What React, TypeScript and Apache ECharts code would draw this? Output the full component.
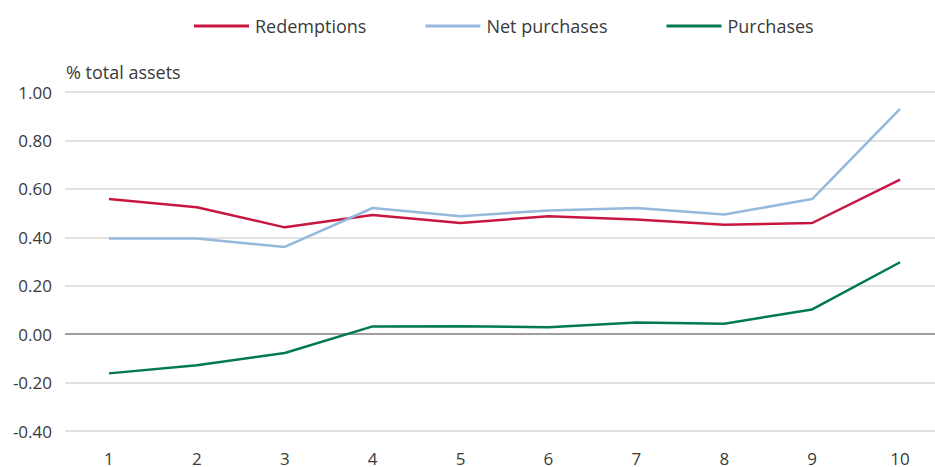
import React, { useEffect, useRef } from "react";
import * as echarts from "echarts";

const categories = ["1", "2", "3", "4", "5", "6", "7", "8", "9", "10"];
const redemptions = [0.558, 0.524, 0.441, 0.492, 0.459, 0.487, 0.473, 0.452, 0.459, 0.638];
const netPurchases = [0.395, 0.395, 0.36, 0.521, 0.487, 0.511, 0.521, 0.494, 0.558, 0.93];
const purchases = [-0.162, -0.128, -0.078, 0.032, 0.033, 0.028, 0.048, 0.043, 0.102, 0.297];

const FONT = "'Open Sans', 'Noto Sans', sans-serif";
const TEXT = "#3a3a3a";

export default function App() {
  const ref = useRef<HTMLDivElement>(null);
  useEffect(() => {
    if (!ref.current) return;
    const chart = echarts.init(ref.current, undefined, { renderer: "svg" });
    const splitColors = ["#d9d9d9", "#d9d9d9", "#7f7f7f", "#d9d9d9", "#d9d9d9", "#d9d9d9", "#d9d9d9", "#d9d9d9"];
    chart.setOption({
      animation: false,
      backgroundColor: "#ffffff",
      textStyle: { fontFamily: FONT },
      legend: {
        top: 12,
        left: 189,
        itemWidth: 55,
        itemHeight: 3,
        itemGap: 59,
        icon: "rect",
        textStyle: { fontSize: 18, color: TEXT, fontFamily: FONT, padding: [0, 0, 0, 1] },
        data: ["Redemptions", "Net purchases", "Purchases"],
      },
      grid: { left: 65, right: 0, top: 92, bottom: 34, containLabel: false },
      xAxis: {
        type: "category",
        data: categories,
        boundaryGap: true,
        axisLine: { show: false },
        axisTick: { show: false },
        axisLabel: { color: TEXT, fontSize: 17, fontFamily: FONT, margin: 19 },
        splitLine: { show: false },
      },
      yAxis: {
        type: "value",
        min: -0.4,
        max: 1.0,
        interval: 0.2,
        name: "% total assets",
        nameLocation: "end",
        nameGap: 11,
        nameTextStyle: { color: TEXT, fontSize: 18, fontFamily: FONT, align: "left", padding: [0, 0, 0, 1] },
        axisLine: { show: false },
        axisTick: { show: false },
        axisLabel: {
          color: TEXT,
          fontSize: 17,
          fontFamily: FONT,
          margin: 13,
          formatter: (v: number) => v.toFixed(2),
        },
        splitLine: { show: true, lineStyle: { color: splitColors, width: 1.5 } },
      },
      series: [
        {
          name: "Redemptions",
          type: "line",
          data: redemptions,
          showSymbol: false,
          symbol: "none",
          color: "#c8163f",
          lineStyle: { width: 2.5, color: "#c8163f" },
        },
        {
          name: "Net purchases",
          type: "line",
          data: netPurchases,
          showSymbol: false,
          symbol: "none",
          color: "#95b9dc",
          lineStyle: { width: 2.5, color: "#95b9dc" },
        },
        {
          name: "Purchases",
          type: "line",
          data: purchases,
          showSymbol: false,
          symbol: "none",
          color: "#007a4e",
          lineStyle: { width: 2.5, color: "#007a4e" },
        },
      ],
    });
    return () => chart.dispose();
  }, []);
  return (
    <div style={{ width: 935, height: 467, position: "absolute", left: 0, top: 0, overflow: "hidden" }}>
      <div ref={ref} style={{ width: 944, height: 467 }} />
    </div>
  );
}
